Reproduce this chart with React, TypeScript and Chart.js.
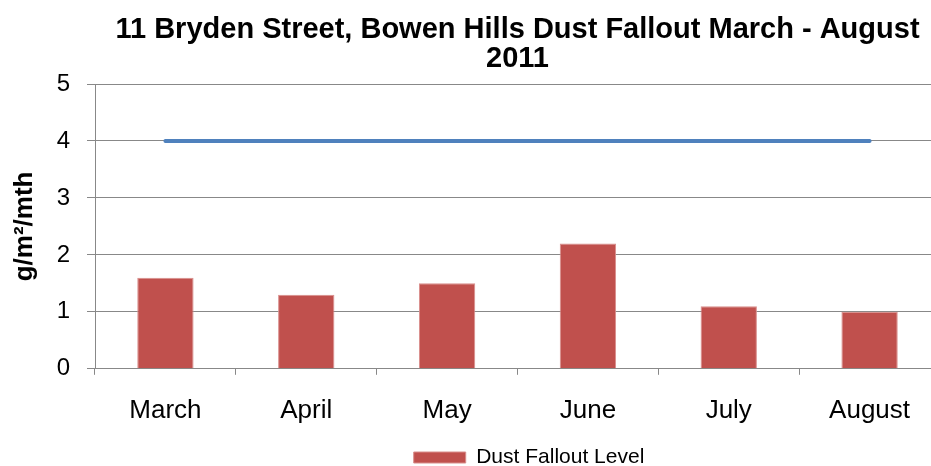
import React, { useEffect, useRef } from "react";
import { Chart, registerables } from "chart.js";

Chart.register(...registerables);

const categories = ["March", "April", "May", "June", "July", "August"];
const dustFallout = [1.6, 1.3, 1.5, 2.2, 1.1, 1.0];
const guideline = [4, 4, 4, 4, 4, 4];
const titleLines = ["11 Bryden Street, Bowen Hills Dust Fallout March - August", "2011"];
const yTitle = "g/m²/mth";

const W = 1058;
const H = 466;

export default function App() {
  const ref = useRef<HTMLCanvasElement | null>(null);
  useEffect(() => {
    if (!ref.current) return;
    Chart.defaults.font.family = "'Liberation Sans', Arial, sans-serif";
    const grey = "#888888";
    const chart = new Chart(ref.current, {
      type: "bar",
      data: {
        labels: categories,
        datasets: [
          {
            type: "bar",
            label: "Dust Fallout Level",
            data: dustFallout,
            backgroundColor: "#C0504D",
            borderColor: "#D98E8C",
            borderWidth: 1,
            barPercentage: 0.4,
            categoryPercentage: 1.0,
            order: 1,
            yAxisID: "y",
          },
          {
            type: "line",
            label: "Guideline",
            data: guideline,
            borderColor: "#4F81BD",
            backgroundColor: "#4F81BD",
            borderWidth: 4,
            pointRadius: 0,
            borderCapStyle: "round",
            order: 0,
            yAxisID: "y",
          },
        ],
      },
      options: {
        animation: false,
        responsive: false,
        devicePixelRatio: 1,
        layout: { padding: { left: 0, right: 0, top: 0, bottom: -12 } },
        plugins: {
          tooltip: { enabled: false },
          title: {
            display: true,
            text: titleLines,
            fullSize: false,
            color: "#000",
            font: { size: 29, weight: "bold", lineHeight: 1.0 },
            padding: { top: 15, bottom: 11 },
          },
          legend: {
            display: true,
            position: "bottom",
            labels: {
              color: "#000",
              font: { size: 21, lineHeight: 1 },
              boxWidth: 52,
              boxHeight: 11,
              padding: 2,
              filter: (item: any) => item.datasetIndex === 0,
            },
          },
        },
        scales: {
          x: {
            type: "category",
            grid: {
              display: true,
              offset: true,
              drawOnChartArea: false,
              drawTicks: true,
              tickLength: 6,
              color: grey,
            },
            border: { display: true, color: grey, width: 1 },
            ticks: { color: "#000", font: { size: 26 }, padding: 20 },
            afterFit: (s: any) => {
              s.height -= 1;
            },
          },
          y: {
            type: "linear",
            position: "left",
            min: 0,
            max: 5,
            ticks: { stepSize: 1, color: "#000", font: { size: 24 }, padding: 17 },
            grid: { color: grey, lineWidth: 1, tickLength: 8, drawTicks: true },
            border: { display: true, color: grey, width: 1 },
            title: {
              display: true,
              text: yTitle,
              color: "#000",
              font: { size: 26, weight: "bold" },
              padding: { top: 9, bottom: 0 },
            },
            afterFit: (s: any) => {
              s.width = 95;
            },
          },
          yR: {
            type: "linear",
            position: "right",
            display: true,
            grid: { display: false, drawTicks: false },
            border: { display: false },
            ticks: { display: false },
            afterFit: (s: any) => {
              s.width = W - 940;
            },
          },
        },
      },
    });
    return () => chart.destroy();
  }, []);
  return (
    <div style={{ position: "absolute", left: 0, top: 0, width: 931, height: H, overflow: "hidden", background: "#fff" }}>
      <canvas ref={ref} width={W} height={H} style={{ width: W, height: H, display: "block" }} />
    </div>
  );
}
